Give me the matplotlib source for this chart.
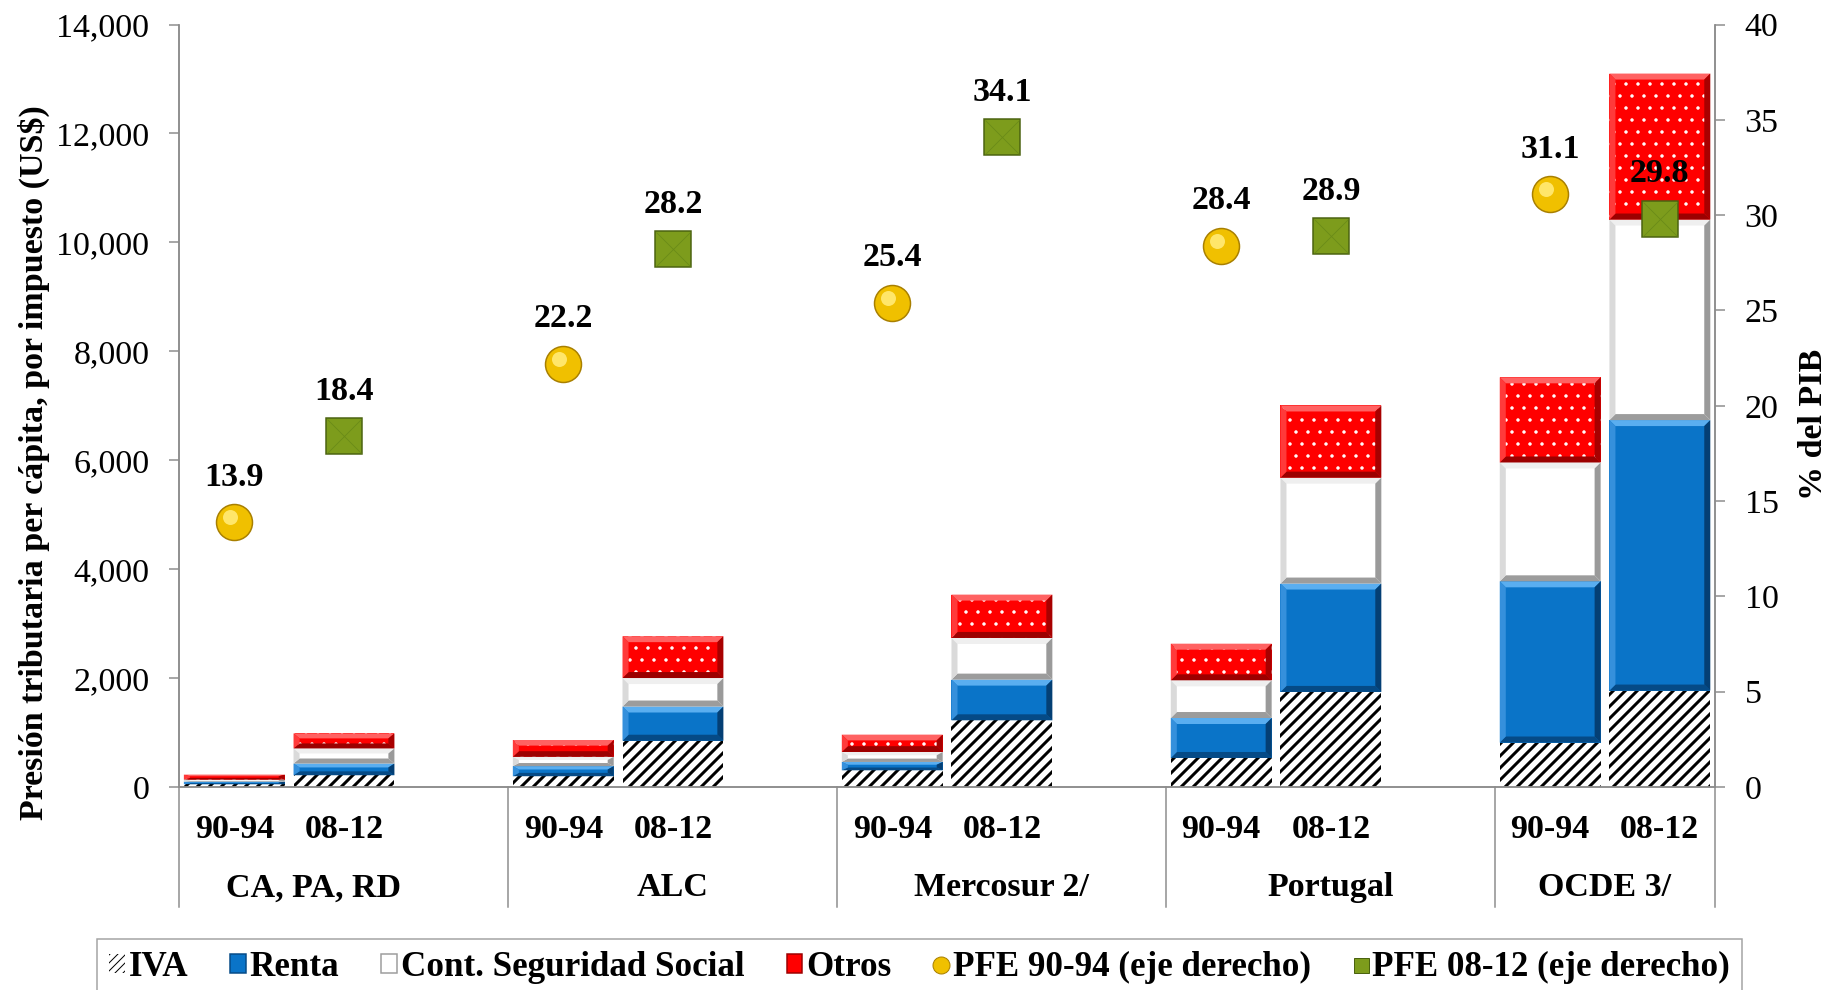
import matplotlib.pyplot as plt
import numpy as np
from matplotlib.lines import Line2D
from matplotlib.patches import Patch, Polygon
from matplotlib.ticker import StrMethodFormatter
from matplotlib.transforms import blended_transform_factory, offset_copy

plt.rcParams["font.family"] = ["Liberation Serif", "DejaVu Serif"]

# Regiones y periodos
grupos = ["CA, PA, RD", "ALC", "Mercosur 2/", "Portugal", "OCDE 3/"]
periodos = ["90-94", "08-12"]

# Presión tributaria per cápita por impuesto (US$): 90-94 y 08-12 de cada región
iva = [49, 215, 197, 849, 306, 1224, 532, 1745, 816, 1770]
renta = [49, 215, 185, 628, 153, 747, 734, 1990, 2960, 4967]
seg_social = [37, 277, 172, 523, 184, 765, 692, 1945, 2182, 3683]
otros = [92, 277, 308, 769, 318, 796, 673, 1325, 1564, 2680]

# Presión fiscal equivalente (% del PIB, eje derecho)
pfe_9094 = [13.9, 22.2, 25.4, 28.4, 31.1]
pfe_0812 = [18.4, 28.2, 34.1, 28.9, 29.8]

GRIS = "#8c8c8c"
FS = 34

fig = plt.figure(figsize=(1839 / 72, 990 / 72), dpi=72)
ax = fig.add_axes([0.0976, 0.2051, 0.8348, 0.7701])
ax2 = ax.twinx()

# dos barras por región y un hueco entre regiones
pos = np.array([3 * g + p for g in range(len(grupos)) for p in range(len(periodos))])
ancho = 0.92


def bisel(x, y0, h, colores):
    # marco biselado alrededor de cada segmento
    claro, oscuro, izq, der = colores
    bx = 0.055
    by = min(110, h / 3)
    x0, x1 = x - ancho / 2, x + ancho / 2
    y1 = y0 + h
    caras = [
        ([(x0, y1), (x1, y1), (x1 - bx, y1 - by), (x0 + bx, y1 - by)], claro),
        ([(x0, y0), (x1, y0), (x1 - bx, y0 + by), (x0 + bx, y0 + by)], oscuro),
        ([(x0, y0), (x0, y1), (x0 + bx, y1 - by), (x0 + bx, y0 + by)], izq),
        ([(x1, y0), (x1, y1), (x1 - bx, y1 - by), (x1 - bx, y0 + by)], der),
    ]
    for verts, color in caras:
        ax.add_patch(Polygon(verts, closed=True, facecolor=color,
                             edgecolor="none", zorder=3))


series = [
    (iva, dict(facecolor="white", edgecolor="black", hatch="//"), 3.0, None),
    (renta, dict(facecolor="#0a74c8", edgecolor="#0a74c8"), 1.0,
     ("#5aaef0", "#054a86", "#3590dc", "#043f74")),
    (seg_social, dict(facecolor="white", edgecolor="white"), 1.0,
     ("#efefef", "#9c9c9c", "#dadada", "#9a9a9a")),
    (otros, dict(facecolor="#ff0000", edgecolor="white", hatch="."), 1.0,
     ("#ff6262", "#9c0000", "#ff3a3a", "#a80000")),
]

base = np.zeros(len(pos))
for valores, estilo, lw_hatch, colores in series:
    valores = np.asarray(valores, dtype=float)
    with plt.rc_context({"hatch.linewidth": lw_hatch}):
        ax.bar(pos, valores, ancho, bottom=base, linewidth=0, zorder=2, **estilo)
    if colores is not None:
        for x, y0, h in zip(pos, base, valores):
            bisel(x, y0, h, colores)
    base += valores

# PFE en el eje derecho
brillo = offset_copy(ax2.transData, fig=fig, x=-4, y=5, units="dots")
ax2.plot(pos[0::2], pfe_9094, ls="none", marker="o", ms=36, mfc="#f0c000",
         mec="#a87f00", mew=1.5, zorder=5)
ax2.plot(pos[0::2], pfe_9094, ls="none", marker="o", ms=15, mfc="#ffe66a",
         mec="none", transform=brillo, zorder=6)
ax2.plot(pos[1::2], pfe_0812, ls="none", marker="s", ms=36, mfc="#7d9c1c",
         mec="#4a6210", mew=1.5, zorder=5)
ax2.plot(pos[1::2], pfe_0812, ls="none", marker="x", ms=34, mec="#6a8a18",
         mew=0.8, zorder=6)

for xs, vals in ((pos[0::2], pfe_9094), (pos[1::2], pfe_0812)):
    for x, v in zip(xs, vals):
        ax2.annotate(f"{v:.1f}", (x, v), xytext=(0, 45), textcoords="offset points",
                     ha="center", va="center", fontsize=FS, fontweight="bold", zorder=7)

# ejes
ax.set_xlim(-0.5, 13.5)
ax.set_ylim(0, 14000)
ax.set_yticks(np.arange(0, 14001, 2000))
ax.yaxis.set_major_formatter(StrMethodFormatter("{x:,.0f}"))
ax2.set_ylim(0, 40)
ax2.set_yticks(np.arange(0, 41, 5))

ax.set_xticks(pos, periodos * len(grupos), fontsize=FS, fontweight="bold")
ax.tick_params(axis="x", length=0, pad=27)
for a in (ax, ax2):
    a.tick_params(axis="y", labelsize=34, length=10, width=1.5, color=GRIS, pad=20)
    a.spines["top"].set_visible(False)
    for lado in ("left", "right", "bottom"):
        a.spines[lado].set_color(GRIS)
        a.spines[lado].set_linewidth(1.5)

ax.set_ylabel("Presión tributaria per cápita, por impuesto (US$)", fontsize=FS,
              fontweight="bold")
ax.yaxis.set_label_coords(-0.0845, 0.425)
ax2.set_ylabel("% del PIB", fontsize=FS, fontweight="bold", rotation=90)
ax2.yaxis.set_label_coords(1.0545, 0.4756)

# separadores y nombres de región bajo el eje
trans = blended_transform_factory(ax.transData, ax.transAxes)
for xs in (-0.5, 2.5, 5.5, 8.5, 11.5, 13.5):
    ax.plot([xs, xs], [0, -0.1574], transform=trans, color=GRIS, lw=1.5,
            clip_on=False)
centros = [0.72, 4.0, 7.0, 10.0, 12.5]
for xc, nombre in zip(centros, grupos):
    ax.text(xc, -0.1325, nombre, transform=trans, ha="center", va="center",
            fontsize=FS, fontweight="bold")

handles = [
    Patch(facecolor="white", edgecolor="black", hatch="///", lw=0),
    Patch(facecolor="#0a74c8", edgecolor="#054a86", lw=1.5),
    Patch(facecolor="white", edgecolor="#9c9c9c", lw=1.5),
    Patch(facecolor="#ff0000", edgecolor="#9c0000", lw=1.5),
    Line2D([], [], ls="none", marker="o", ms=17, mfc="#f0c000", mec="#a87f00"),
    Line2D([], [], ls="none", marker="s", ms=15, mfc="#7d9c1c", mec="#4a6210"),
]
etiquetas = ["IVA", "Renta", "Cont. Seguridad Social", "Otros",
             "PFE 90-94 (eje derecho)", "PFE 08-12 (eje derecho)"]
leg = fig.legend(handles, etiquetas, loc="upper left", mode="expand",
                 bbox_to_anchor=(97 / 1839, 0, 1645 / 1839, 1 - 939 / 990),
                 borderaxespad=0, ncol=6, frameon=True, fancybox=False,
                 edgecolor=GRIS, prop=dict(size=35, weight="bold"),
                 handlelength=0.45, handleheight=0.45, handletextpad=0.1,
                 borderpad=0.35)
leg.get_frame().set_linewidth(1.5)

fig.savefig("out.png", dpi=72)
